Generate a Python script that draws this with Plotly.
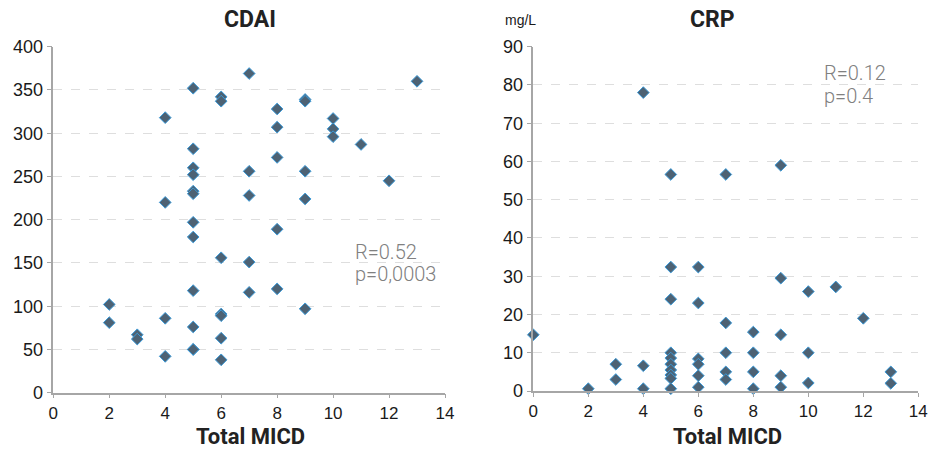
import plotly.graph_objects as go

# Total MICD score vs CDAI
cdai_micd = [2, 2, 3, 3, 4, 4, 4, 4,
             5, 5, 5, 5, 5, 5, 5, 5, 5, 5, 5, 5,
             6, 6, 6, 6, 6, 6, 6,
             7, 7, 7, 7, 7,
             8, 8, 8, 8, 8,
             9, 9, 9, 9, 9,
             10, 10, 10, 11, 12, 13]
cdai_values = [102, 81, 67, 62, 318, 220, 86, 42,
               352, 282, 260, 252, 233, 230, 197, 180, 118, 76, 50, 50,
               342, 337, 156, 91, 89, 63, 38,
               369, 256, 228, 151, 116,
               328, 307, 272, 189, 120,
               339, 337, 256, 224, 97,
               317, 305, 296, 287, 245, 360]

# Total MICD score vs CRP (mg/L)
crp_micd = [0, 2, 3, 3, 4, 4, 4,
            5, 5, 5, 5, 5, 5, 5, 5, 5, 5,
            6, 6, 6, 6, 6, 6,
            7, 7, 7, 7, 7,
            8, 8, 8, 8,
            9, 9, 9, 9, 9,
            10, 10, 10, 11, 12, 13, 13]
crp_values = [14.7, 0.6, 7.0, 3.0, 78.0, 6.6, 0.6,
              56.6, 32.4, 24.0, 10.0, 8.6, 7.0, 5.5, 4.2, 3.3, 0.6,
              32.4, 23.0, 8.4, 7.0, 4.0, 1.0,
              56.6, 17.8, 10.0, 5.0, 3.0,
              15.4, 10.0, 5.0, 0.6,
              59.0, 29.5, 14.7, 4.0, 1.0,
              26.0, 10.0, 2.1, 27.2, 19.0, 5.0, 2.0]

x_ticks = [0, 2, 4, 6, 8, 10, 12, 14]
cdai_ticks = [0, 50, 100, 150, 200, 250, 300, 350, 400]
crp_ticks = [0, 10, 20, 30, 40, 50, 60, 70, 80, 90]

W, H = 928, 450
marker = dict(symbol="diamond", size=9, color="#4d6274",
              line=dict(color="#3a9ad9", width=1))

fig = go.Figure()
fig.add_trace(go.Scatter(x=cdai_micd, y=cdai_values, mode="markers",
                         marker=marker, xaxis="x", yaxis="y",
                         cliponaxis=False, showlegend=False))
fig.add_trace(go.Scatter(x=crp_micd, y=crp_values, mode="markers",
                         marker=marker, xaxis="x2", yaxis="y2",
                         cliponaxis=False, showlegend=False))

tick_font = dict(family="Liberation Sans, Arial, sans-serif", size=17, color="#1a1a1a")

def xaxis(domain, anchor):
    return dict(domain=domain, anchor=anchor, range=[0, 14], tickvals=x_ticks,
                showgrid=False, zeroline=False, showline=True, linecolor="#a6a6a6",
                linewidth=1.5, ticks="outside", ticklen=4, tickcolor="#a6a6a6",
                tickfont=tick_font, fixedrange=True, automargin=False,
                ticklabeloverflow="allow")

def yaxis(domain, anchor, rng, vals):
    return dict(domain=domain, anchor=anchor, range=rng, tickvals=vals,
                showgrid=True, gridcolor="#dedede", griddash="dash", gridwidth=1,
                zeroline=False, showline=True, linecolor="#a6a6a6", linewidth=1.5,
                ticks="outside", ticklen=5, tickcolor="#a6a6a6",
                tickfont=dict(tick_font, size=18), fixedrange=True, automargin=False,
                ticklabeloverflow="allow")

fig.update_layout(
    width=W, height=H,
    margin=dict(l=0, r=0, t=0, b=0),
    paper_bgcolor="white", plot_bgcolor="white",
    xaxis=xaxis([53.3 / W, 445 / W], "y"),
    yaxis=yaxis([(H - 392.7) / H, (H - 46.7) / H], "x", [0, 400], cdai_ticks),
    xaxis2=xaxis([533.3 / W, 918.3 / W], "y2"),
    yaxis2=yaxis([(H - 391) / H, (H - 46.7) / H], "x2", [0, 90], crp_ticks),
)

title_font = dict(family="Roboto, sans-serif", size=23, color="#222222", weight="bold")
axis_title_font = dict(family="Roboto, sans-serif", size=22, color="#222222", weight="bold")
stat_font = dict(family="Roboto, sans-serif", size=20, color="#808080", weight=300)

annotations = [
    dict(text="CDAI", x=250 / W, y=1 - 20 / H, xref="paper", yref="paper",
         showarrow=False, font=title_font, xanchor="center", yanchor="middle"),
    dict(text="CRP", x=712 / W, y=1 - 20 / H, xref="paper", yref="paper",
         showarrow=False, font=title_font, xanchor="center", yanchor="middle"),
    dict(text="mg/L", x=520 / W, y=1 - 20 / H, xref="paper", yref="paper",
         showarrow=False, xanchor="center", yanchor="middle",
         font=dict(family="Liberation Sans, Arial, sans-serif", size=14, color="#1a1a1a")),
    dict(text="Total MICD", x=250 / W, y=0, xref="paper", yref="paper",
         showarrow=False, font=axis_title_font, xanchor="center", yanchor="bottom",
         borderpad=0),
    dict(text="Total MICD", x=727 / W, y=0, xref="paper", yref="paper",
         showarrow=False, font=axis_title_font, xanchor="center", yanchor="bottom",
         borderpad=0),
    dict(text="R=0.52", x=10.7, y=162.7, xref="x", yref="y", showarrow=False,
         xanchor="left", yanchor="middle", font=stat_font),
    dict(text="p=0,0003", x=10.7, y=137, xref="x", yref="y", showarrow=False,
         xanchor="left", yanchor="middle", font=stat_font),
    dict(text="R=0.12", x=10.5, y=83.1, xref="x2", yref="y2", showarrow=False,
         xanchor="left", yanchor="middle", font=stat_font),
    dict(text="p=0.4", x=10.5, y=77.1, xref="x2", yref="y2", showarrow=False,
         xanchor="left", yanchor="middle", font=stat_font),
]
fig.update_layout(annotations=annotations)

fig.write_html("out.html")
